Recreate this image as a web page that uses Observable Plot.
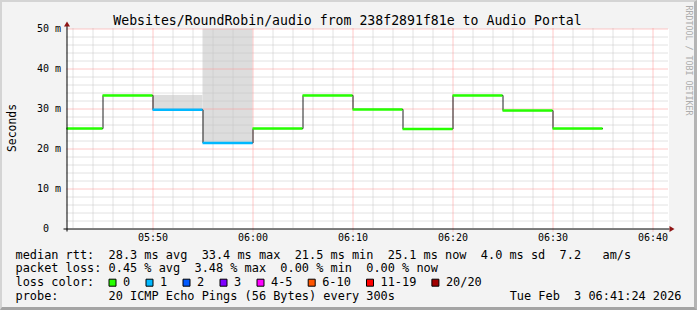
<!DOCTYPE html>
<html><head><meta charset="utf-8">
<script src="https://cdn.jsdelivr.net/npm/d3@7"></script>
<script src="https://cdn.jsdelivr.net/npm/@observablehq/plot@0.6"></script>
<style>
html,body{margin:0;padding:0;background:#f3f3f3;}
#wrap{position:relative;width:697px;height:310px;overflow:hidden;background:#f3f3f3;}
#wrap svg{display:block;}
#border{position:absolute;left:0;top:0;width:697px;height:310px;box-sizing:border-box;border-top:2px solid #d4d4d4;border-left:2px solid #d4d4d4;border-right:3px solid #b4b4b4;border-bottom:3px solid #a4a4a4;pointer-events:none;}
svg text{white-space:pre;}
</style></head><body>
<div id="wrap"><div id="border"></div></div>
<script>
// ---------- data ----------
const DAY = "2026-02-03";
const windowStart = "05:41:24";
const windowEnd = "06:41:24";
const intervalStarts = ["05:40","05:45","05:50","05:55","06:00","06:05","06:10","06:15","06:20","06:25","06:30"];
const intervalEnd = "06:35";
const medianRtt = [25.1, 33.4, 29.8, 21.5, 25.1, 33.4, 29.9, 25.0, 33.4, 29.6, 25.1];
const lostPings = [0, 0, 1, 1, 0, 0, 0, 0, 0, 0, 0];
const smokeMin  = [25.1, 33.4, 29.8, 21.5, 25.1, 33.4, 29.9, 25.0, 33.4, 29.6, 25.1];
const smokeMax  = [25.1, 33.4, 33.4, 64.0, 25.1, 33.4, 29.9, 25.0, 33.4, 29.6, 25.1];
const lossLabels = ["0","1","2","3","4-5","6-10","11-19","20/20"];
const lossFrom   = [0, 1, 2, 3, 4, 6, 11, 20];
const lossColors = ["#26ff00","#00b8ff","#0059ff","#7e00ff","#ff00ff","#ff5500","#ff0000","#a10000"];
const yTicks = [0, 10, 20, 30, 40, 50];
const xTickMinutes = ["05:50","06:00","06:10","06:20","06:30","06:40"];
const titleText = "Websites/RoundRobin/audio from 238f2891f81e to Audio Portal";
const yLabel = "Seconds";
const legendRows = [
  "median rtt:  28.3 ms avg  33.4 ms max  21.5 ms min  25.1 ms now  4.0 ms sd  7.2   am/s",
  "packet loss: 0.45 % avg  3.48 % max  0.00 % min  0.00 % now"
];
const lossRowLabel = "loss color:";
const probeRow = "probe:       20 ICMP Echo Pings (56 Bytes) every 300s";
const stampText = "Tue Feb  3 06:41:24 2026";
const watermark = "RRDTOOL / TOBI OETIKER";

// ---------- build ----------
const t = s => new Date(`${DAY}T${s.length === 5 ? s + ":00" : s}Z`);
const tStart = t(windowStart), tEnd = t(windowEnd);
const colorFor = lost => { let c = lossColors[0]; lossFrom.forEach((f, i) => { if (lost >= f) c = lossColors[i]; }); return c; };
const rows = intervalStarts.map((s, i) => ({
  start: t(s), end: t(intervalStarts[i + 1] ?? intervalEnd),
  median: medianRtt[i], lost: lostPings[i], lo: smokeMin[i], hi: smokeMax[i]
}));
const stepPts = [...rows, {start: rows[rows.length - 1].end, median: rows[rows.length - 1].median}];
const majorX = xTickMinutes.map(t);
const minorX = d3.utcMinute.every(2).range(tStart, tEnd).filter(d => d.getUTCMinutes() % 10 !== 0);
const minorY = d3.range(2, 50, 2).filter(d => d % 10 !== 0);

const mono = "DejaVu Sans Mono";
const ML = 66.5, MR = 30.5, MT = 28.5, MB = 81.5;
const txt = (str, o) => Plot.text([str], {text: d => d, fontFamily: mono, fill: "black", lineAnchor: "bottom", textAnchor: "start", ...o});

const arrowUp = {draw(ctx) { ctx.moveTo(0, -7.5); ctx.lineTo(3, -2.5); ctx.lineTo(-3, -2.5); ctx.closePath(); }};
const arrowRight = {draw(ctx) { ctx.moveTo(7.5, 0); ctx.lineTo(2.5, -3); ctx.lineTo(2.5, 3); ctx.closePath(); }};
const box = {draw(ctx) { ctx.rect(-3.5, -3.5, 7, 7); }};

// loss legend layout (pixel offsets from frame bottom-left)
const lossMarks = [];
let bx = 108;
lossLabels.forEach((lab, i) => {
  lossMarks.push(Plot.dot([lab], {frameAnchor: "bottom-left", dx: bx + 4 - ML, dy: 53.7, symbol: box, fill: lossColors[i], stroke: "black", strokeWidth: 1}));
  lossMarks.push(txt(lab, {frameAnchor: "bottom-left", dx: bx + 14.5 - ML, dy: 57.3, fontSize: 11.9}));
  bx += 29.9 + 7.1 * lab.length;
});

const chart = Plot.plot({
  width: 697, height: 310,
  marginLeft: ML, marginRight: MR, marginTop: MT, marginBottom: MB,
  x: {type: "utc", domain: [tStart, tEnd]},
  y: {domain: [0, 50]},
  color: {type: "identity"},
  style: {background: "transparent", fontFamily: mono, fontSize: "10px", color: "black", overflow: "visible"},
  marks: [
    Plot.frame({fill: "white", stroke: "none", insetRight: -2}),
    Plot.rect(rows, {x1: "start", x2: "end", y1: "lo", y2: "hi", fill: "#dddddd", clip: true}),
    Plot.gridX({ticks: minorX, stroke: "#c4c4c4", strokeOpacity: 1, strokeDasharray: "1,1"}),
    Plot.gridY({ticks: minorY, stroke: "#c4c4c4", strokeOpacity: 1, strokeDasharray: "1,1", insetRight: -2}),
    Plot.gridX({ticks: majorX, stroke: "#ff9090", strokeOpacity: 1, strokeDasharray: "1,1", insetBottom: -3}),
    Plot.gridY({ticks: yTicks.filter(d => d > 0), stroke: "#ff9090", strokeOpacity: 1, strokeDasharray: "1,1", insetRight: -2}),
    Plot.line(stepPts, {x: "start", y: "median", curve: "step-after", stroke: "#202020", strokeWidth: 1, clip: true}),
    Plot.ruleY(rows, {y: "median", x1: "start", x2: "end", stroke: d => colorFor(d.lost), strokeWidth: 2.5, clip: true}),
    Plot.ruleY([0], {stroke: "black", strokeWidth: 1, insetLeft: -3, insetRight: -3}),
    Plot.ruleX([tStart], {stroke: "black", strokeWidth: 1, insetBottom: -3, insetTop: -3}),
    Plot.dot([0], {frameAnchor: "top-left", symbol: arrowUp, fill: "#8f1414", stroke: "none"}),
    Plot.dot([0], {frameAnchor: "bottom-right", symbol: arrowRight, fill: "#8f1414", stroke: "none"}),
    Plot.axisX({ticks: majorX, tickFormat: d3.utcFormat("%H:%M"), tickSize: 0, tickPadding: 4.5, fontSize: 10, fontFamily: mono, label: null}),
    Plot.axisY({ticks: yTicks, tickFormat: d => d === 0 ? "0  " : `${d} m`, tickSize: 0, tickPadding: 6, fontSize: 10, fontFamily: mono, label: null}),
    txt(titleText, {frameAnchor: "top", textAnchor: "middle", dx: -19.5, dy: -4.5, fontSize: 13.2}),
    txt(yLabel, {frameAnchor: "left", textAnchor: "middle", dx: -51.5, dy: -1, rotate: -90, fontSize: 11.4}),
    txt(watermark, {frameAnchor: "top-right", dx: 18.5, dy: -23.5, rotate: 90, fontSize: 8.3, fill: "#acacac"}),
    txt(legendRows[0], {frameAnchor: "bottom-left", dx: 15 - ML, dy: 29.5, fontSize: 11.9}),
    txt(legendRows[1], {frameAnchor: "bottom-left", dx: 15 - ML, dy: 43.3, fontSize: 11.9}),
    txt(lossRowLabel, {frameAnchor: "bottom-left", dx: 15 - ML, dy: 57.3, fontSize: 11.9}),
    ...lossMarks,
    txt(probeRow, {frameAnchor: "bottom-left", dx: 15 - ML, dy: 71, fontSize: 11.9}),
    txt(stampText, {frameAnchor: "bottom-right", textAnchor: "end", dx: 14.5, dy: 71, fontSize: 11.9})
  ]
});
document.getElementById("wrap").insertBefore(chart, document.getElementById("border"));
</script>
</body></html>
